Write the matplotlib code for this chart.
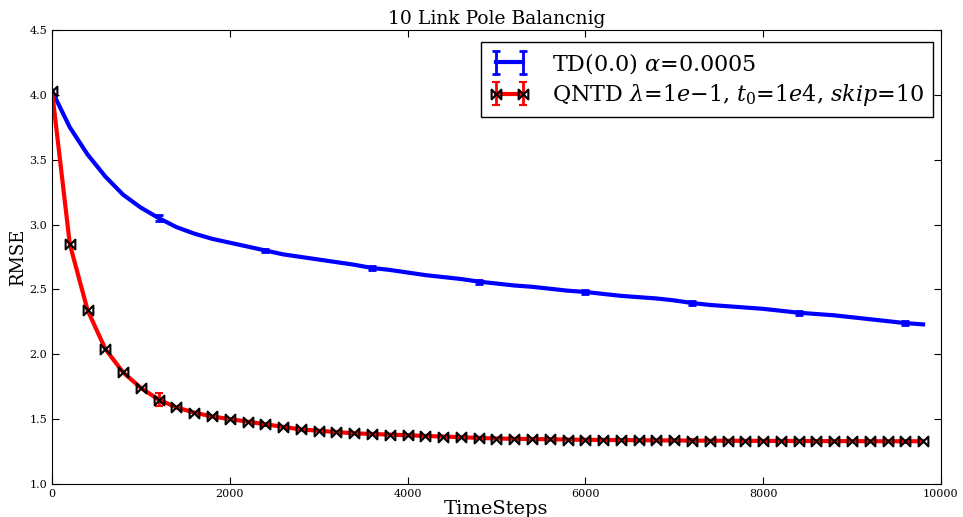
import numpy as np
import matplotlib as mpl
mpl.use('Agg')
import matplotlib.pyplot as plt
from matplotlib.path import Path

plt.rcParams['font.family'] = ['DejaVu Serif']
plt.rcParams['mathtext.fontset'] = 'dejavuserif'

# timesteps, every 200
steps = np.arange(0, 10000, 200)

td_rmse = [4.03, 3.75, 3.54, 3.37, 3.23, 3.13, 3.05, 2.98, 2.93, 2.89,
           2.86, 2.83, 2.80, 2.77, 2.75, 2.73, 2.71, 2.69, 2.665, 2.65,
           2.63, 2.61, 2.595, 2.58, 2.56, 2.545, 2.53, 2.52, 2.505, 2.49,
           2.48, 2.465, 2.45, 2.44, 2.43, 2.415, 2.395, 2.38, 2.37, 2.36,
           2.35, 2.335, 2.32, 2.31, 2.30, 2.285, 2.27, 2.255, 2.24, 2.23]

qntd_rmse = [4.03, 2.85, 2.34, 2.04, 1.86, 1.74, 1.65, 1.59, 1.55, 1.52,
             1.50, 1.48, 1.46, 1.44, 1.42, 1.41, 1.40, 1.39, 1.385, 1.38,
             1.375, 1.37, 1.365, 1.36, 1.355, 1.35, 1.348, 1.346, 1.344, 1.342,
             1.34, 1.339, 1.338, 1.337, 1.336, 1.335, 1.334, 1.333, 1.333, 1.332,
             1.332, 1.331, 1.331, 1.330, 1.330, 1.330, 1.329, 1.329, 1.329, 1.329]

# error bars shown every 1200 steps (index 6, 12, ...)
td_err_pts = [0.02, 0.015, 0.015, 0.015, 0.015, 0.015, 0.015, 0.015]
qntd_err_pts = [0.05, 0.01, 0.01, 0.01, 0.01, 0.01, 0.01, 0.01]

td_err = np.zeros(len(steps))
td_err[6::6] = td_err_pts
qntd_err = np.zeros(len(steps))
qntd_err[6::6] = qntd_err_pts

# bowtie marker
verts = [(-1, 1), (0, 0), (-1, -1), (-1, 1), (1, 1), (0, 0), (1, -1), (1, 1)]
codes = [Path.MOVETO, Path.LINETO, Path.LINETO, Path.CLOSEPOLY,
         Path.MOVETO, Path.LINETO, Path.LINETO, Path.CLOSEPOLY]
bowtie = Path(verts, codes)

fig = plt.figure(figsize=(9.63, 5.17), dpi=100)
ax = fig.add_axes([0.054, 0.064, 0.923, 0.878])

ax.errorbar(steps, td_rmse, yerr=td_err, errorevery=(6, 6), color='b',
            linewidth=3, elinewidth=2, capsize=3, capthick=2,
            label=r'TD(0.0) $\alpha$=0.0005')
ax.errorbar(steps, qntd_rmse, yerr=qntd_err, errorevery=(6, 6), color='r',
            linewidth=3, elinewidth=2, capsize=3, capthick=2,
            marker=bowtie, markersize=7, markerfacecolor='none',
            markeredgecolor='k', markeredgewidth=1.5,
            label='QNTD $\\lambda$=1$e$\u22121, $t_0$=1$e$4, $skip$=10')

ax.set_xlim(0, 10000)
ax.set_ylim(1.0, 4.5)
ax.set_xticks(range(0, 10001, 2000))
ax.set_yticks(np.arange(1.0, 4.51, 0.5))
ax.tick_params(direction='in', top=True, right=True, labelsize=8, length=5)
ax.set_xlabel('TimeSteps', fontsize=14, labelpad=1)
ax.set_ylabel('RMSE', fontsize=13, labelpad=2)
ax.set_title('10 Link Pole Balancnig', fontsize=13.5, pad=4)

leg = ax.legend(loc='upper right', bbox_to_anchor=(0.991, 0.974),
                borderaxespad=0, numpoints=2, fontsize=16, fancybox=False,
                edgecolor='k', framealpha=1,
                handletextpad=1.0, handlelength=1.8, labelspacing=0.3)
leg.get_frame().set_linewidth(1)

plt.savefig('out.png', dpi=100)
